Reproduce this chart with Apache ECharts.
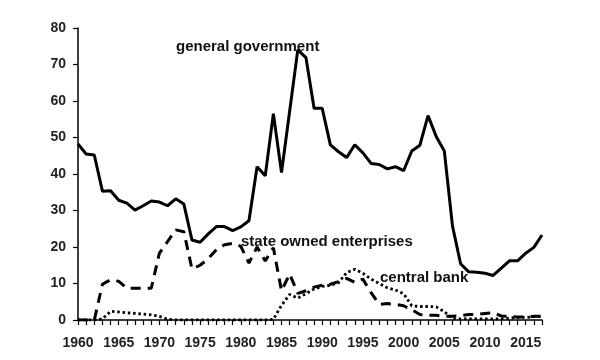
<!DOCTYPE html>
<html>
<head>
<meta charset="utf-8">
<script src="https://cdn.jsdelivr.net/npm/echarts@6/dist/echarts.min.js"></script>
<style>html,body{margin:0;padding:0;background:#fff}#c{width:600px;height:360px}</style>
</head>
<body>
<div id="c"></div>
<script>
var years = [];
for (var y = 1960; y <= 2017; y++) years.push(y);

var generalGovernment = [
  48.2, 45.5, 45.2, 35.3, 35.4, 32.8, 32.0, 30.1, 31.3, 32.6,
  32.3, 31.3, 33.2, 31.8, 21.9, 21.3, 23.6, 25.6, 25.6, 24.5,
  25.5, 27.2, 42.0, 39.5, 56.5, 40.4, 57.2, 74.0, 71.9, 58.0,
  58.0, 48.0, 46.1, 44.5, 48.0, 45.8, 42.9, 42.6, 41.4, 42.0,
  40.9, 46.3, 47.9, 56.0, 50.3, 46.3, 25.8, 15.4, 13.2, 13.1,
  12.8, 12.2, 14.2, 16.2, 16.2, 18.3, 19.9, 23.3
];
var stateOwned = [
  0, 0, 0, 9.8, 11.0, 10.6, 8.7, 8.7, 8.7, 8.7,
  18.3, 21.5, 24.7, 24.2, 14.0, 15.0, 16.8, 19.3, 20.6, 21.0,
  20.2, 15.6, 20.0, 16.2, 19.8, 8.0, 12.6, 7.3, 8.0, 9.0,
  9.5, 9.8, 10.5, 11.4, 10.3, 11.2, 7.5, 4.3, 4.5, 4.3,
  3.9, 2.8, 1.5, 1.3, 1.3, 1.0, 1.0, 1.2, 1.5, 1.5,
  1.8, 2.0, 1.1, 1.0, 0.8, 0.8, 1.0, 1.0
];
var centralBank = [
  0, 0, 0, 0.3, 2.4, 2.2, 2.0, 1.8, 1.6, 1.4,
  1.0, 0.2, 0, 0, 0, 0, 0, 0, 0, 0,
  0, 0, 0, 0, 0.2, 4.0, 7.0, 6.0, 7.2, 8.5,
  9.2, 9.5, 10.2, 13.0, 13.9, 12.8, 11.2, 10.0, 8.8, 8.2,
  7.2, 3.9, 3.7, 3.7, 3.6, 2.3, 0.4, 0.3, 0.3, 0.3,
  0.3, 0.3, 0.3, 0.5, 0.7, 0.7, 0.9, 0.9
];
var labels = ['general government', 'state owned enterprises', 'central bank'];

function pairs(arr) { return years.map(function (yr, i) { return [yr, arr[i]]; }); }

var FONT = '"Liberation Sans", Arial, sans-serif';
var chart = echarts.init(document.getElementById('c'));
chart.setOption({
  animation: false,
  backgroundColor: '#fff',
  grid: { left: 78, right: 58, top: 28, bottom: 40, containLabel: false },
  xAxis: {
    type: 'value', min: 1960, max: 2017, interval: 1,
    axisLine: { show: true, lineStyle: { color: '#000', width: 1.5 } },
    axisTick: { show: true, length: 5, lineStyle: { color: '#000', width: 1.2 } },
    splitLine: { show: false },
    axisLabel: {
      formatter: function (v) { return v % 5 === 0 ? String(v) : ''; },
      color: '#222', fontSize: 14, fontWeight: 'bold', fontFamily: FONT, margin: 16
    }
  },
  yAxis: {
    type: 'value', min: 0, max: 80, interval: 10,
    axisLine: { show: true, lineStyle: { color: '#000', width: 1.5 } },
    axisTick: { show: true, length: 5, lineStyle: { color: '#000', width: 1.2 } },
    splitLine: { show: false },
    axisLabel: { color: '#222', fontSize: 14, fontWeight: 'bold', fontFamily: FONT, margin: 12 }
  },
  series: [
    { name: labels[2], type: 'line', data: pairs(centralBank), showSymbol: false,
      lineStyle: { color: '#000', width: 2.8, type: [2.5, 2.8] } },
    { name: labels[1], type: 'line', data: pairs(stateOwned), showSymbol: false,
      lineStyle: { color: '#000', width: 3, type: [10, 7] } },
    { name: labels[0], type: 'line', data: pairs(generalGovernment), showSymbol: false,
      lineStyle: { color: '#000', width: 3 } }
  ],
  graphic: [
    { type: 'text', x: 176, y: 47, style: { text: labels[0], font: 'bold 15px ' + FONT, fill: '#111', verticalAlign: 'middle' } },
    { type: 'text', x: 241, y: 242, style: { text: labels[1], font: 'bold 15px ' + FONT, fill: '#111', verticalAlign: 'middle' } },
    { type: 'text', x: 380, y: 278, style: { text: labels[2], font: 'bold 15px ' + FONT, fill: '#111', verticalAlign: 'middle' } }
  ]
});
</script>
</body>
</html>
